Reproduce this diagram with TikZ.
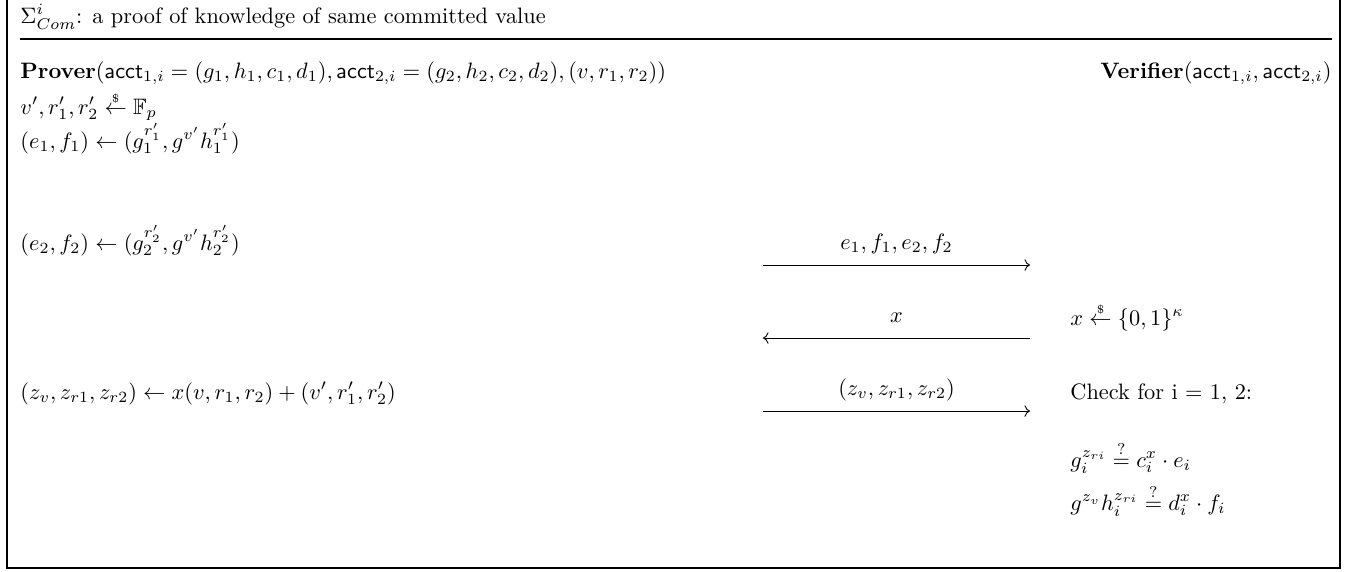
\documentclass[tikz,border=0pt]{standalone}
\usepackage{amsmath,amssymb}
\usepackage{tikz}
\usetikzlibrary{arrows.meta,positioning,calc}

\newcommand{\smp}{\mathrel{\overset{\raisebox{-.6ex}{\tiny\$}}{\leftarrow}}}

\begin{document}
\begin{tikzpicture}[x=0.01575cm, y=-0.01575cm, >=To,
    line/.style={anchor=base west, inner sep=0pt},
    msg/.style={->, line width=0.4pt},
    msglabel/.style={midway, anchor=base, inner sep=0pt, yshift=7pt}]
    \useasboundingbox (0,0) rectangle (1364,571);
    \draw[line width=0.6pt] (7,0) -- (7,568) -- (1340,568) -- (1340,0);
    \node[line] (title) at (20,23) {$\Sigma^i_{Com}$: a proof of knowledge of same committed value};
    \draw[line width=0.8pt] (20,39) -- (1332,39);
    \node[line] (prover) at (20,78) {\textbf{Prover}$(\mathsf{acct}_{1,i} = (g_1,h_1,c_1,d_1), \mathsf{acct}_{2,i} = (g_2,h_2,c_2,d_2), (v,r_1,r_2))$};
    \node[anchor=base east, inner sep=0pt] (verifier) at (1332,78) {\textbf{Verifier}$(\mathsf{acct}_{1,i}, \mathsf{acct}_{2,i})$};
    \node[line] (samp) at (20,114) {$v', r_1', r_2' \smp \mathbb{F}_p$};
    \node[line] (com1) at (20,148) {$(e_1,f_1) \leftarrow (g_1^{r_1'}, g^{v'} h_1^{r_1'})$};
    \node[line] (com2) at (20,250) {$(e_2,f_2) \leftarrow (g_2^{r_2'}, g^{v'} h_2^{r_2'})$};
    \node[line] (resp) at (20,399) {$(z_v, z_{r1}, z_{r2}) \leftarrow x(v,r_1,r_2) + (v', r_1', r_2')$};
    \node[line] (chal) at (1070,325) {$x \smp \{0,1\}^\kappa$};
    \node[line] (check) at (1070,399) {Check for i = 1, 2:};
    \node[line] (chk1) at (1070,467) {$g_i^{z_{ri}} \stackrel{?}{=} c_i^x \cdot e_i$};
    \node[line] (chk2) at (1070,510) {$g^{z_v} h_i^{z_{ri}} \stackrel{?}{=} d_i^x \cdot f_i$};
    \coordinate (p1) at (763,265);
    \coordinate (v1) at (1030,265);
    \coordinate (p2) at (763,338);
    \coordinate (v2) at (1030,338);
    \coordinate (p3) at (763,411);
    \coordinate (v3) at (1030,411);
    \draw[msg] (p1) -- node[msglabel] {$e_1, f_1, e_2, f_2$} (v1);
    \draw[msg] (v2) -- node[msglabel] {$x$} (p2);
    \draw[msg] (p3) -- node[msglabel] {$(z_v, z_{r1}, z_{r2})$} (v3);
\end{tikzpicture}
\end{document}
